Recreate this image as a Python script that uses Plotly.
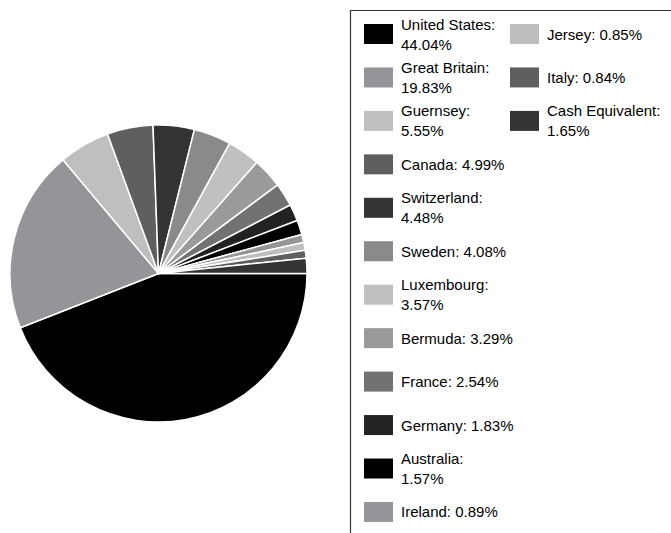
import plotly.graph_objects as go

labels = ["United States", "Great Britain", "Guernsey", "Canada", "Switzerland",
          "Sweden", "Luxembourg", "Bermuda", "France", "Germany", "Australia",
          "Ireland", "Jersey", "Italy", "Cash Equivalent"]
values = [44.04, 19.83, 5.55, 4.99, 4.48, 4.08, 3.57, 3.29, 2.54, 1.83, 1.57,
          0.89, 0.85, 0.84, 1.65]
colors = ["#000000", "#949598", "#bebfc1", "#5f5f5f", "#333333", "#8a8a8a",
          "#c0c0c0", "#9a9a9a", "#727272", "#222222", "#000000", "#949598",
          "#bdbec0", "#5f5f5f", "#333333"]
wrapped = {"United States", "Great Britain", "Guernsey", "Switzerland",
           "Luxembourg", "Australia", "Cash Equivalent"}

W, H = 671, 533

def px(x):
    return x / W

def py(y):
    return 1 - y / H

fig = go.Figure()
fig.add_trace(go.Pie(
    labels=labels, values=values, sort=False, direction="clockwise",
    rotation=90, textinfo="none", showlegend=False,
    marker=dict(colors=colors, line=dict(color="#ffffff", width=1.5)),
    domain=dict(x=[px(10), px(307)], y=[py(422), py(125)]),
))

shapes = [dict(type="rect", xref="paper", yref="paper",
               x0=px(350.5), x1=px(W + 5), y0=py(H + 5), y1=py(10.5),
               line=dict(color="#333333", width=1.2), fillcolor="rgba(0,0,0,0)")]
annotations = []
rows = 12
for i, (lab, val, col) in enumerate(zip(labels, values, colors)):
    c, r = divmod(i, rows)
    sx = 364 if c == 0 else 510
    cy = 34 + 43.45 * r
    shapes.append(dict(type="rect", xref="paper", yref="paper",
                       x0=px(sx), x1=px(sx + 29), y0=py(cy + 10), y1=py(cy - 10),
                       line=dict(width=0), fillcolor=col))
    sep = ":<br>" if lab in wrapped else ": "
    annotations.append(dict(xref="paper", yref="paper", x=px(sx + 35), y=py(cy),
                            xanchor="left", yanchor="middle", align="left",
                            showarrow=False, text=f"{lab}{sep}{val:.2f}%",
                            font=dict(family="Liberation Sans, Arial, sans-serif",
                                      size=15, color="#000000")))

fig.update_layout(width=W, height=H, margin=dict(l=0, r=0, t=0, b=0),
                  paper_bgcolor="#ffffff", plot_bgcolor="#ffffff",
                  shapes=shapes, annotations=annotations)
fig.write_html("out.html", config={"displayModeBar": False},
               post_script="document.body.style.margin='0';document.body.style.overflow='hidden';")
